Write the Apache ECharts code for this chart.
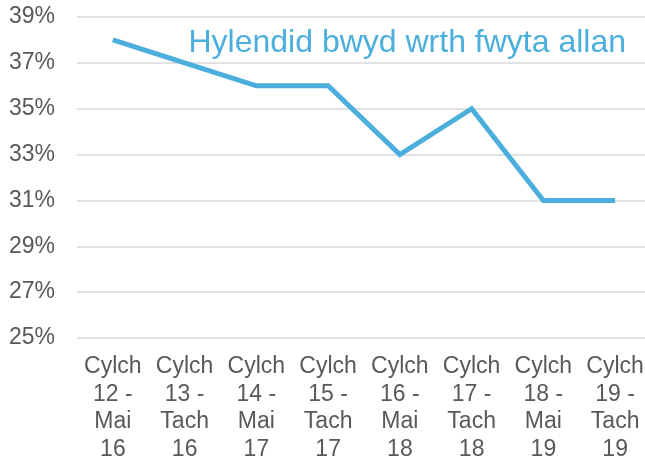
<!DOCTYPE html>
<html>
<head>
<meta charset="utf-8">
<script src="https://cdn.jsdelivr.net/npm/echarts@6/dist/echarts.min.js"></script>
<style>
  html, body { margin: 0; padding: 0; background: #fff; }
  #chart { width: 645px; height: 462px; }
</style>
</head>
<body>
<div id="chart"></div>
<script>
// categories (wrapped the way the original axis wraps them)
var categories = [
  'Cylch\n12 -\nMai\n16',
  'Cylch\n13 -\nTach\n16',
  'Cylch\n14 -\nMai\n17',
  'Cylch\n15 -\nTach\n17',
  'Cylch\n16 -\nMai\n18',
  'Cylch\n17 -\nTach\n18',
  'Cylch\n18 -\nMai\n19',
  'Cylch\n19 -\nTach\n19'
]
var seriesName = 'Hylendid bwyd wrth fwyta allan'
var hygieneValues = [38, 37, 36, 36, 33, 35, 31, 31]

var chart = echarts.init(document.getElementById('chart'))
chart.setOption({
  animation: false,
  textStyle: { fontFamily: 'Liberation Sans, Arial, sans-serif' },
  legend: {
    right: 14,
    top: 22,
    itemWidth: 0,
    itemHeight: 0,
    icon: 'none',
    data: [seriesName],
    textStyle: {
      fontSize: 32,
      color: '#4BAEDD'
    }
  },
  grid: {
    left: 77,
    width: 574,
    top: 17,
    bottom: 124,
    outerBoundsMode: 'none'
  },
  xAxis: {
    type: 'category',
    data: categories,
    boundaryGap: true,
    axisLine: { show: false },
    axisTick: { show: false },
    axisLabel: {
      interval: 0,
      margin: 15,
      fontSize: 23,
      lineHeight: 27.5,
      color: '#595959'
    }
  },
  yAxis: {
    type: 'value',
    min: 25,
    max: 39,
    interval: 2,
    axisLine: { show: false },
    axisTick: { show: false },
    axisLabel: {
      margin: 22,
      fontSize: 23,
      color: '#595959',
      formatter: '{value}%'
    },
    splitLine: {
      lineStyle: { color: '#D9D9D9', width: 1.5 }
    }
  },
  series: [{
    name: seriesName,
    type: 'line',
    data: hygieneValues,
    symbol: 'none',
    lineStyle: { color: '#4BAEDD', width: 5, join: 'miter' },
    itemStyle: { color: '#4BAEDD' }
  }]
})
</script>
</body>
</html>
